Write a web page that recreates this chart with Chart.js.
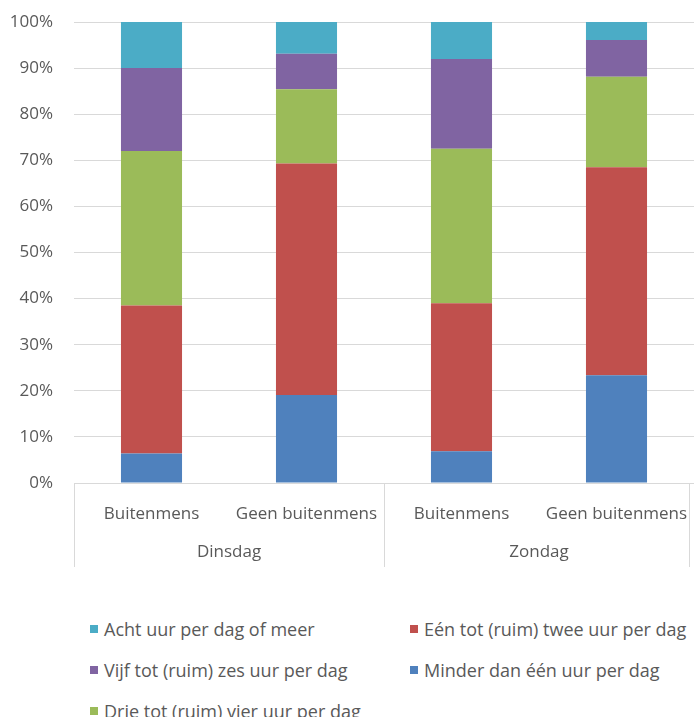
<!DOCTYPE html>
<html>
<head>
<meta charset="utf-8">
<script src="https://cdn.jsdelivr.net/npm/chart.js@4.4.1/dist/chart.umd.min.js"></script>
<style>
    body { margin: 0; background: #fff; font-family: 'Open Sans', sans-serif; }
    #wrap { position: relative; width: 695px; height: 717px; overflow: hidden; }
    #barChart { position: absolute; left: 0; top: 0; }
    #legend {
        position: absolute; left: 90px; top: 608px;
        display: grid; grid-auto-flow: column;
        grid-template-rows: repeat(3, 41px);
        grid-template-columns: 320px auto;
    }
    .item { display: flex; align-items: center; font-size: 18px; color: #595959; white-space: nowrap; }
    .box { width: 8px; height: 8px; margin-right: 6px; }
</style>
</head>
<body>
<div id="wrap">
    <canvas id="barChart" width="695" height="600"></canvas>
    <div id="legend"></div>
</div>
<script>
// categories, inner level and outer level
const labels = ['Buitenmens', 'Geen buitenmens', 'Buitenmens', 'Geen buitenmens'];
const groups = ['Dinsdag', 'Zondag'];
const yTicks = [0, 10, 20, 30, 40, 50, 60, 70, 80, 90, 100];

// percentages per bar, bottom to top
const minder = [6.4, 19.1, 6.9, 23.4];
const eenTwee = [32.1, 50.2, 32.1, 45.1];
const drieVier = [33.5, 16.1, 33.5, 19.6];
const vijfZes = [18.0, 7.7, 19.5, 8.0];
const acht = [10.0, 6.9, 8.0, 3.9];

const textColor = '#595959';
const gridColor = '#d9d9d9';

Chart.defaults.font.family = "'Open Sans', sans-serif";
Chart.defaults.font.size = 17;
Chart.defaults.color = textColor;

// second category row + separators, like a multi level axis
const groupAxis = {
    id: 'groupAxis',
    afterDraw(chart) {
        const ctx = chart.ctx;
        const x = chart.scales.x;
        const area = chart.chartArea;
        const mid = (x.getPixelForValue(1) + x.getPixelForValue(2)) / 2;
        let edges = [area.left, mid, area.right - 5];

        ctx.save();
        ctx.strokeStyle = gridColor;
        ctx.lineWidth = 1;
        edges.forEach(function(px) {
            ctx.beginPath();
            ctx.moveTo(Math.round(px) + 0.5, area.bottom);
            ctx.lineTo(Math.round(px) + 0.5, area.bottom + 84);
            ctx.stroke();
        });

        ctx.fillStyle = textColor;
        ctx.font = "17px 'Open Sans', sans-serif";
        ctx.textAlign = 'center';
        ctx.textBaseline = 'middle';
        groups.forEach(function(g, i) {
            let cx = (x.getPixelForValue(i * 2) + x.getPixelForValue(i * 2 + 1)) / 2;
            ctx.fillText(g, cx, area.bottom + 69);
        });
        ctx.restore();
    }
};

function buildLegend(chart) {
    const el = document.getElementById('legend');
    el.innerHTML = '';
    let sets = chart.data.datasets.slice().reverse();
    sets.forEach(function(ds) {
        let item = document.createElement('div');
        item.className = 'item';
        let box = document.createElement('span');
        box.className = 'box';
        box.style.background = ds.backgroundColor;
        item.appendChild(box);
        item.appendChild(document.createTextNode(ds.label));
        el.appendChild(item);
    });
}

function barDataset(label, data, color) {
    return {
        label: label,
        data: data,
        backgroundColor: color,
        borderWidth: 0,
        categoryPercentage: 1,
        barPercentage: 0.394
    };
}

let chart = new Chart(document.getElementById('barChart'), {
    type: 'bar',
    data: {
        labels: labels,
        datasets: [
            barDataset('Minder dan één uur per dag', minder, '#4F81BD'),
            barDataset('Eén tot (ruim) twee uur per dag', eenTwee, '#C0504D'),
            barDataset('Drie tot (ruim) vier uur per dag', drieVier, '#9BBB59'),
            barDataset('Vijf tot (ruim) zes uur per dag', vijfZes, '#8064A2'),
            barDataset('Acht uur per dag of meer', acht, '#4BACC6')
        ]
    },
    options: {
        responsive: false,
        animation: false,
        layout: { padding: { top: 22, right: 1, bottom: 0, left: 0 } },
        plugins: {
            legend: { display: false },
            tooltip: { enabled: false }
        },
        scales: {
            x: {
                stacked: true,
                grid: { display: false },
                border: { display: false },
                ticks: { padding: 13, maxRotation: 0 },
                afterFit: function(scale) {
                    scale.height = 117;
                    scale.paddingLeft = 0;
                    scale.paddingRight = 0;
                }
            },
            y: {
                stacked: true,
                min: 0,
                max: 100,
                grid: { color: gridColor, drawTicks: false },
                border: { display: false },
                afterBuildTicks: function(scale) {
                    scale.ticks = yTicks.map(v => ({ value: v }));
                },
                ticks: {
                    padding: 21,
                    callback: function(v) { return v + '%'; }
                },
                afterFit: function(scale) {
                    scale.width = 74;
                    scale.paddingTop = 0;
                    scale.paddingBottom = 0;
                }
            }
        }
    },
    plugins: [groupAxis]
});

buildLegend(chart);
</script>
</body>
</html>
